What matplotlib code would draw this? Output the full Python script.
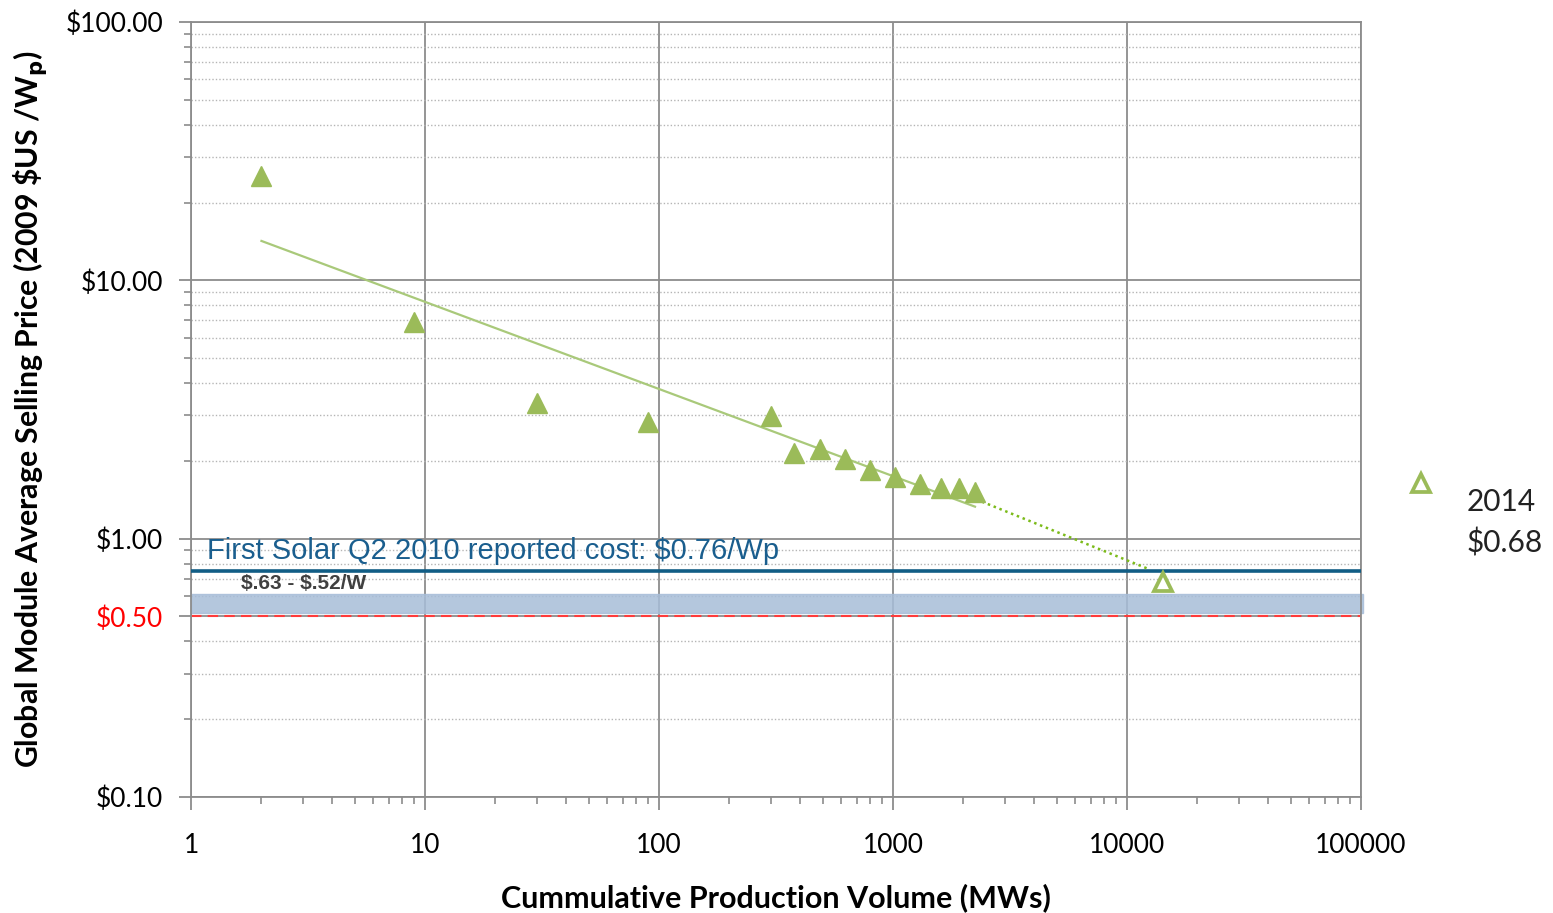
import numpy as np
import matplotlib.pyplot as plt
from matplotlib.ticker import FixedLocator, NullFormatter

# cumulative production (MW) and module price ($/Wp)
volume = [2, 9, 30, 90, 300, 377, 488, 623, 797, 1020, 1304, 1603, 1914, 2240]
price = [25.4, 6.9, 3.36, 2.84, 2.99, 2.15, 2.23, 2.04, 1.85, 1.74, 1.63, 1.57, 1.57, 1.52]

proj_volume = [14250]
proj_price = [0.68]

trend_x = [2, 2240]
trend_y = [14.2, 1.33]
ext_x = [2400, 12500]
ext_y = [1.39, 0.76]

first_solar = 0.75
band = [0.515, 0.61]
target = 0.50

green = '#9BBB59'
plt.rcParams['font.family'] = ['Lato', 'DejaVu Sans']

fig = plt.figure(figsize=(15.53, 9.13), dpi=100)
ax = fig.add_axes([0.123, 0.127, 0.7534, 0.849])
ax.set_xscale('log')
ax.set_yscale('log')
ax.set_xlim(1, 100000)
ax.set_ylim(0.1, 100)

# grid
ax.grid(which='major', axis='both', color='#8c8c8c', lw=1.3)
ax.yaxis.set_minor_locator(FixedLocator([m * 10.0 ** e for e in range(-1, 2) for m in range(2, 10)]))
ax.grid(which='minor', axis='y', color='#b5b5b5', lw=1.0, ls=(0, (1, 1.5)))
ax.set_axisbelow(True)

# reference lines
ax.axhspan(band[0], band[1], xmin=0, xmax=1.002, color='#a7bdd8', alpha=0.85, zorder=1, clip_on=False)
ax.axhline(target, color='#ff3b3b', lw=1.5, ls=(0, (5, 3)), zorder=2)
ax.axhline(first_solar, color='#115d85', lw=2.6, zorder=3)

ax.plot(trend_x, trend_y, color='#a9c97a', lw=1.6, zorder=3)
ax.plot(ext_x, ext_y, color='#7cbb1a', lw=1.8, ls=(0, (1, 1.5)), zorder=3)

ax.plot(volume, price, ls='none', marker='^', ms=14, color=green, mec=green, zorder=4)
ax.plot(proj_volume, proj_price, ls='none', marker='^', ms=13, mfc='white', mec=green, mew=2.7, zorder=4)

ax.text(1.17, 0.79, 'First Solar Q2 2010 reported cost: $0.76/Wp', family='Liberation Sans',
        fontsize=21, color='#1a5e8e', va='bottom', ha='left', parse_math=False)
ax.text(1.64, 0.615, '$.63 - $.52/W', family='Liberation Sans', fontweight='bold',
        fontsize=15, color='#404040', va='bottom', ha='left', parse_math=False)

# ticks
ax.set_yticks([0.1, 0.5, 1, 10, 100])
ax.set_yticklabels(['\\$0.10', '\\$0.50', '\\$1.00', '\\$10.00', '\\$100.00'])
ax.get_yticklabels()[1].set_color('#ff0000')
ax.yaxis.set_minor_formatter(NullFormatter())
xt = [1, 10, 100, 1000, 10000, 100000]
ax.set_xticks(xt)
ax.set_xticklabels([str(v) for v in xt])
ax.xaxis.set_minor_locator(FixedLocator([m * 10.0 ** e for e in range(0, 5) for m in range(2, 10)]))
ax.xaxis.set_minor_formatter(NullFormatter())
ax.tick_params(axis='both', which='major', labelsize=19, color='#8c8c8c', width=1.3, length=9)
ax.tick_params(axis='y', which='major', pad=11)
ax.tick_params(axis='x', which='major', pad=17)
ax.tick_params(axis='both', which='minor', color='#8c8c8c', width=1.2, length=5)
for s in ax.spines.values():
    s.set_color('#8c8c8c')
    s.set_linewidth(1.3)

ax.set_xlabel('Cummulative Production Volume (MWs)', fontsize=22, fontweight='bold', labelpad=18)
ax.set_ylabel('Global Module Average Selling Price (2009 \\$US /W$_\\mathbf{p}$)', fontsize=21.8,
              fontweight='bold')
ax.yaxis.set_label_coords(-0.121, 0.5)

# side legend for 2014 point
leg_ax = fig.add_axes([0, 0, 1, 1], facecolor='none')
leg_ax.set_axis_off()
leg_ax.set_xlim(0, 1553)
leg_ax.set_ylim(913, 0)
leg_ax.plot([1421], [483], ls='none', marker='^', ms=13, mfc='white', mec=green, mew=2.7)
leg_ax.text(1467, 502, '2014', fontsize=21.5, va='center', ha='left', color='#222222')
leg_ax.text(1467, 543, '$0.68', fontsize=21.5, va='center', ha='left', color='#222222', parse_math=False)

fig.savefig('out.png', dpi=100)
